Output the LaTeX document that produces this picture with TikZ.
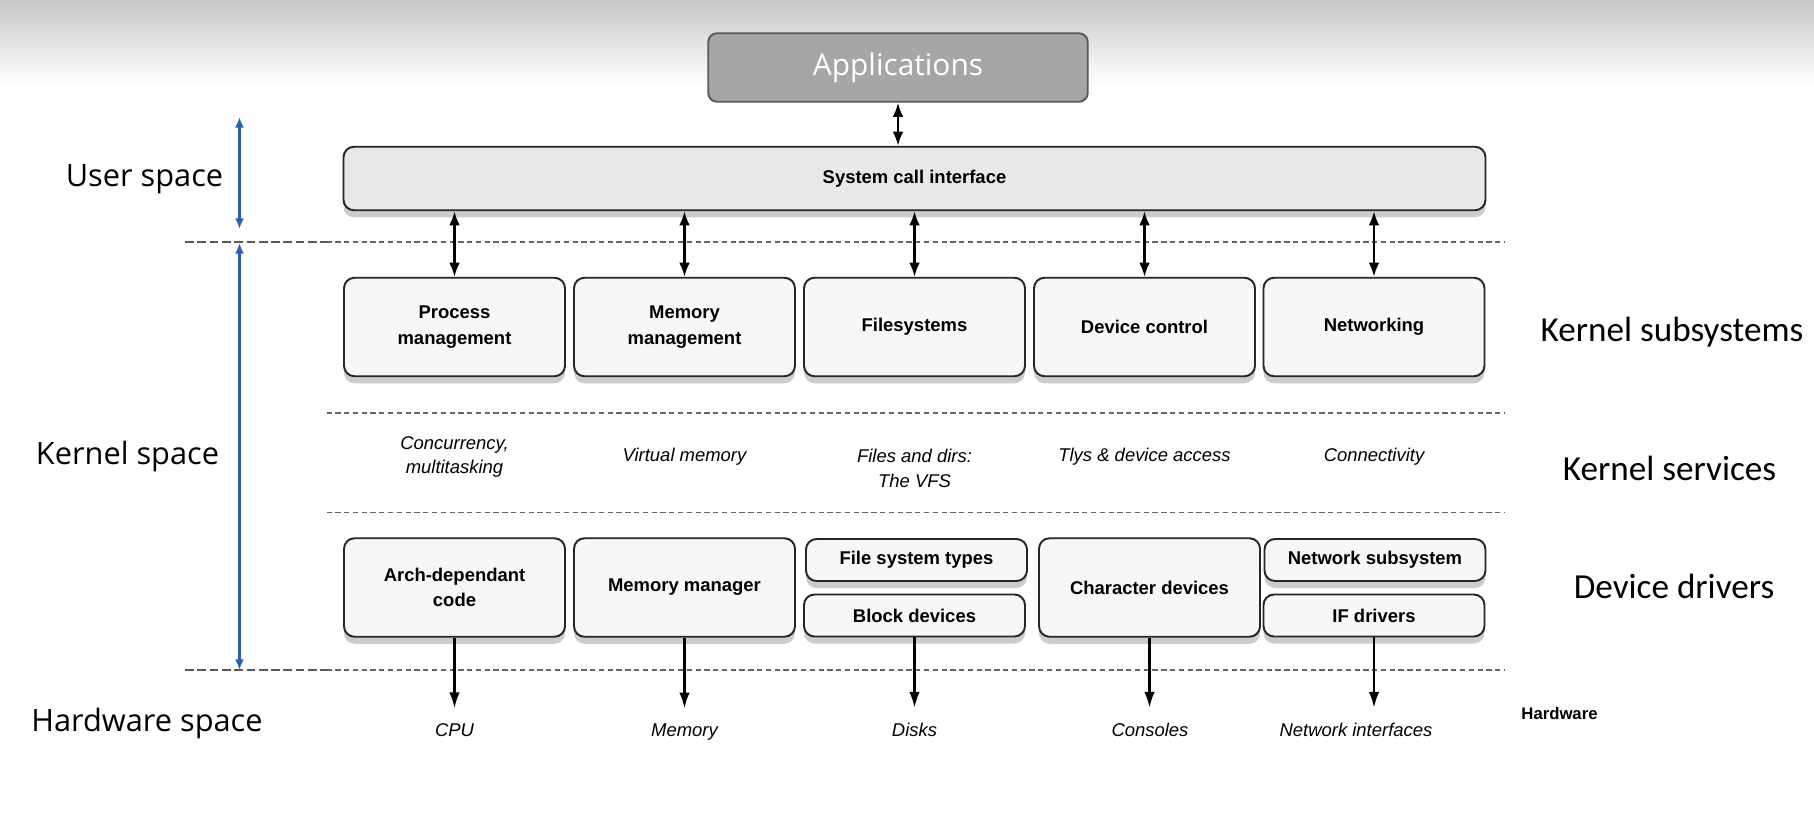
\documentclass[tikz,border=0pt]{standalone}
\usepackage{fontspec}
\setmainfont{Liberation Sans}
\newfontfamily\spacefont{Open Sans}
\newfontfamily\layerfont{Carlito}
\usetikzlibrary{arrows.meta,shadows}

\definecolor{spanblue}{HTML}{2E5EAA}
\definecolor{appgray}{HTML}{A6A6A6}

\tikzset{
  box/.style={draw=black!85, line width=1.1pt, fill=black!3, rounded corners=6pt,
    minimum width=4.42cm, minimum height=1.97cm, align=center,
    font=\bfseries\fontsize{10.5}{14.5}\selectfont,
    drop shadow={shadow xshift=0pt, shadow yshift=-4pt, opacity=0.4}},
  halfbox/.style={box, minimum height=0.84cm},
  appbox/.style={draw=black!65, line width=1.1pt, fill=appgray, rounded corners=5pt,
    minimum width=7.59cm, minimum height=1.37cm, text=white,
    font=\spacefont\fontsize{17}{20}\selectfont},
  service/.style={align=center, font=\itshape\fontsize{10.5}{14}\selectfont},
  layer/.style={font=\layerfont\fontsize{20}{24}\selectfont},
  space/.style={font=\spacefont\fontsize{17.5}{20}\selectfont},
  sep/.style={black!60, line width=0.7pt, dash pattern=on 3pt off 2pt},
  sepleft/.style={black!65, line width=1.6pt, dash pattern=on 5pt off 2pt},
  biarrow/.style={{Latex[length=8pt,width=6pt]}-{Latex[length=8pt,width=6pt]}, line width=1.2pt},
  downarrow/.style={-{Latex[length=9pt,width=6pt]}, line width=1.2pt, shorten >=5pt},
  span/.style={{Latex[length=6pt,width=5pt]}-{Latex[length=6pt,width=5pt]}, line width=1.4pt, spanblue},
}

\begin{document}
\begin{tikzpicture}

\useasboundingbox (0,0) rectangle (36.28,-16.59);
\fill[white] (0,0) rectangle (36.28,-16.59);
\shade[top color=black!22, bottom color=white] (0,0) rectangle (36.28,-1.7);

% Top
\node[appbox] (app) at (17.96,-1.35) {Applications};
\node[box, fill=black!9, minimum width=22.84cm, minimum height=1.27cm] (sci) at (18.29,-3.57) {System call interface};
\draw[biarrow] (app.south) -- (app.south |- sci.north);

% Separators
\draw[sepleft] (3.70,-4.84) -- (6.53,-4.84);
\draw[sep] (6.53,-4.84) -- (30.08,-4.84);
\draw[sep] (6.53,-8.26) -- (30.08,-8.26);
\draw[sep] (6.53,-10.25) -- (30.08,-10.25);
\draw[sepleft] (3.70,-13.40) -- (6.53,-13.40);
\draw[sep] (6.53,-13.40) -- (30.08,-13.40);

% Kernel subsystems
\node[box] (proc) at (9.09,-6.54) {Process\\management};
\node[box] (mem) at (13.69,-6.54) {Memory\\management};
\node[box] (fs) at (18.29,-6.54) {Filesystems};
\node[box] (dev) at (22.89,-6.54) {Device control};
\node[box] (net) at (27.48,-6.54) {Networking};

\foreach \n in {proc,mem,fs,dev,net}
  \draw[biarrow] (sci.south -| \n) -- (\n.north);

% Kernel services
\node[service] (conc) at (9.09,-9.14) {Concurrency,\\multitasking};
\node[service] (vmem) at (13.69,-9.14) {Virtual memory};
\node[service] (vfs) at (18.29,-9.37) {Files and dirs:\\The VFS};
\node[service] (tty) at (22.89,-9.14) {Tlys \& device access};
\node[service] (conn) at (27.48,-9.14) {Connectivity};

% Device drivers
\node[box] (arch) at (9.09,-11.75) {Arch-dependant\\code};
\node[box] (mmgr) at (13.69,-11.75) {Memory manager};
\node[halfbox] (fstypes) at (18.33,-11.20) {File system types};
\node[halfbox] (block) at (18.29,-12.31) {Block devices};
\node[box] (chr) at (22.99,-11.75) {Character devices};
\node[halfbox] (netsub) at (27.50,-11.20) {Network subsystem};
\node[halfbox] (ifdrv) at (27.48,-12.31) {IF drivers};

% Hardware
\node[service, anchor=base] (cpu) at (9.09,-14.72) {CPU};
\node[service, anchor=base] (ram) at (13.69,-14.72) {Memory};
\node[service, anchor=base] (disk) at (18.29,-14.72) {Disks};
\node[service, anchor=base] (cons) at (23.00,-14.72) {Consoles};
\node[service, anchor=base] (nic) at (27.12,-14.72) {Network interfaces};
\node[font=\bfseries\fontsize{9.5}{11}\selectfont] (hw) at (31.19,-14.28) {Hardware};

\draw[downarrow] (arch.south) -- (arch.south |- cpu.north);
\draw[downarrow] (mmgr.south) -- (mmgr.south |- ram.north);
\draw[downarrow] (block.south) -- (block.south |- disk.north);
\draw[downarrow] (chr.south) -- (chr.south |- cons.north);
\draw[downarrow] (ifdrv.south) -- (ifdrv.south |- nic.north);

% Spaces
\node[space] (user) at (2.89,-3.59) {User space};
\node[space] (kern) at (2.55,-9.14) {Kernel space};
\node[space] (hwsp) at (2.94,-14.46) {Hardware space};

\coordinate (usertop) at (4.79,-2.34);
\coordinate (userbot) at (4.79,-4.58);
\coordinate (kerntop) at (4.79,-4.86);
\coordinate (kernbot) at (4.79,-13.40);
\draw[span] (usertop) -- (userbot);
\draw[span] (kerntop) -- (kernbot);

% Layers
\node[layer] (subsys) at (33.44,-6.64) {Kernel subsystems};
\node[layer] (services) at (33.39,-9.37) {Kernel services};
\node[layer] (drivers) at (33.48,-11.73) {Device drivers};

\end{tikzpicture}
\end{document}
